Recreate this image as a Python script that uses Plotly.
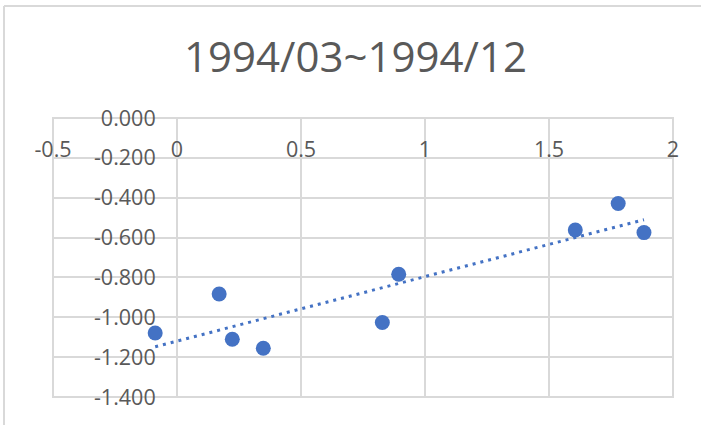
import numpy as np
import plotly.graph_objects as go

# ---- data ----
x_vals = [-0.088, 0.170, 0.223, 0.348, 0.828, 0.894, 1.606, 1.779, 1.883]
y_vals = [-1.079, -0.883, -1.110, -1.155, -1.026, -0.784, -0.562, -0.429, -0.575]

x_ticks = [-0.5, 0, 0.5, 1, 1.5, 2]
x_tick_labels = ["-0.5", "0", "0.5", "1", "1.5", "2"]
y_ticks = [0, -0.2, -0.4, -0.6, -0.8, -1.0, -1.2, -1.4]
y_tick_labels = ["0.000", "-0.200", "-0.400", "-0.600", "-0.800", "-1.000", "-1.200", "-1.400"]
title_text = "1994/03~1994/12"

# linear trendline computed from the data
slope, intercept = np.polyfit(x_vals, y_vals, 1)
trend_x = [min(x_vals), max(x_vals)]
trend_y = [slope * v + intercept for v in trend_x]

BLUE = "#4472C4"
GRID = "#D9D9D9"
TEXT = "#595959"
FONT = "Open Sans"

fig = go.Figure()
fig.add_trace(go.Scatter(
    x=trend_x, y=trend_y, mode="lines",
    line=dict(color=BLUE, width=3, dash="3px,5px"),
    showlegend=False, hoverinfo="skip",
))
fig.add_trace(go.Scatter(
    x=x_vals, y=y_vals, mode="markers",
    marker=dict(color=BLUE, size=15, line=dict(width=0)),
    showlegend=False,
))

L, R, T, B = 53, 28, 118, 28
W, H = 701, 425
pw, ph = W - L - R, H - T - B

def px_to_paper_x(p):
    return (p - L) / pw

def px_to_paper_y(p):
    return (H - B - p) / ph

fig.update_layout(
    width=W, height=H,
    margin=dict(l=L, r=R, t=T, b=B, autoexpand=False),
    paper_bgcolor="white", plot_bgcolor="white",
    font=dict(family=FONT, color=TEXT),
    title=dict(text=title_text, x=355.5 / W, xref="container", xanchor="center",
               y=1 - 57 / H, yref="container", yanchor="middle",
               font=dict(family=FONT, size=42, color=TEXT)),
    xaxis=dict(
        range=[-0.5, 2], domain=[0, 1], anchor="free", position=1, side="bottom",
        tickmode="array", tickvals=x_ticks, ticktext=x_tick_labels,
        showgrid=True, gridcolor=GRID, gridwidth=2,
        showline=True, linecolor=GRID, linewidth=2,
        ticks="outside", ticklen=12, tickcolor="rgba(0,0,0,0)",
        zeroline=False, tickfont=dict(family=FONT, size=21.5, color=TEXT),
    ),
    yaxis=dict(
        range=[-1.4, 0], domain=[0, 1], anchor="free", position=0.2, side="left",
        tickmode="array", tickvals=y_ticks, ticktext=y_tick_labels,
        showgrid=True, gridcolor=GRID, gridwidth=2,
        showline=True, linecolor=GRID, linewidth=2,
        ticks="outside", ticklen=16, tickcolor="rgba(0,0,0,0)",
        zeroline=False, tickfont=dict(family=FONT, size=21.5, color=TEXT),
    ),
    shapes=[
        # plot-area frame (edge grid lines)
        dict(type="rect", xref="paper", yref="paper", x0=0, x1=1, y0=0, y1=1,
             line=dict(color=GRID, width=2), layer="below"),
        # chart-area border (top and left, cropped in the reference)
        dict(type="line", xref="paper", yref="paper",
             x0=px_to_paper_x(4), x1=px_to_paper_x(W + 5),
             y0=px_to_paper_y(6), y1=px_to_paper_y(6),
             line=dict(color=GRID, width=2)),
        dict(type="line", xref="paper", yref="paper",
             x0=px_to_paper_x(4), x1=px_to_paper_x(4),
             y0=px_to_paper_y(6), y1=px_to_paper_y(H + 5),
             line=dict(color=GRID, width=2)),
    ],
)

fig.write_html(
    "out.html",
    config={"displayModeBar": False},
    post_script="document.body.style.margin='0';document.body.style.overflow='hidden';",
)
